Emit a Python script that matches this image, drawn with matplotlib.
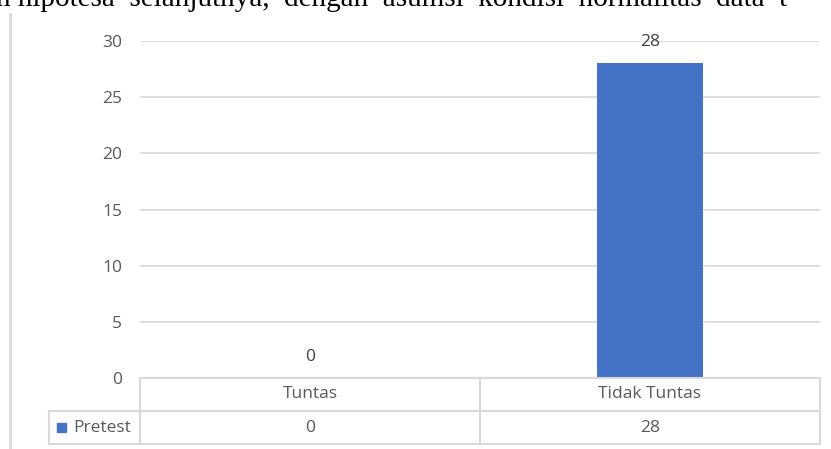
import matplotlib
matplotlib.use("Agg")
import matplotlib.pyplot as plt
from matplotlib.transforms import blended_transform_factory
from matplotlib.patches import Rectangle

categories = ["Tuntas", "Tidak Tuntas"]
series_name = "Pretest"
values = [0, 28]
yticks = [0, 5, 10, 15, 20, 25, 30]
header_text = "n hipotesa  selanjutnya,  dengan  asumsi  kondisi  normalitas  data  t"

W, H = 831, 449
fig = plt.figure(figsize=(W / 100, H / 100), dpi=100)
fig.patch.set_facecolor("white")

def fx(px):
    return px / W

def fy(py):
    return 1 - py / H

FS = 12.5
L, R, T, B = 140, 820, 41, 378
ax = fig.add_axes([fx(L), fy(B), fx(R) - fx(L), fy(T) - fy(B)])
ax.set_xlim(-0.5, 1.5)
ax.set_ylim(0, 30)
for s in ax.spines.values():
    s.set_visible(False)
ax.set_yticks(yticks)
ax.yaxis.grid(True, color="#d9d9d9", linewidth=1.2)
ax.set_axisbelow(True)
ax.tick_params(axis="y", length=0, pad=13, labelsize=FS, labelcolor="#595959")
ax.set_xticks([])
for lab in ax.get_yticklabels():
    lab.set_fontfamily("Open Sans")

blue = "#4472c4"
x = list(range(len(categories)))
ax.bar(x, values, width=0.31, color=blue, zorder=3)
for xi, v in zip(x, values):
    ax.annotate(str(v), (xi, v), xytext=(0, 9.5), textcoords="offset points",
                ha="center", va="bottom", fontsize=FS, color="#404040", family="Open Sans")

# data table below the axes
lc = "#d9d9d9"
row1_top, row1_bot, row2_bot = 378, 411, 444
leg_left = 49
fig.add_artist(plt.Line2D([fx(L), fx(R)], [fy(row1_top)] * 2, color=lc, lw=1.5))
fig.add_artist(plt.Line2D([fx(leg_left), fx(R)], [fy(row1_bot)] * 2, color=lc, lw=1.5))
fig.add_artist(plt.Line2D([fx(leg_left), fx(R)], [fy(row2_bot)] * 2, color=lc, lw=1.5))
fig.add_artist(plt.Line2D([fx(leg_left)] * 2, [fy(row1_bot), fy(row2_bot)], color=lc, lw=1.5))
trans = blended_transform_factory(ax.transData, fig.transFigure)
for xb in [-0.5, 0.5, 1.5]:
    ax.add_artist(plt.Line2D([xb, xb], [fy(row1_top), fy(row2_bot)], color=lc, lw=1.5,
                             transform=trans, clip_on=False))
for xi, cat, v in zip(x, categories, values):
    ax.text(xi, fy((row1_top + row1_bot) / 2), cat, transform=trans, ha="center", va="center",
            fontsize=FS, color="#595959", family="Open Sans", clip_on=False)
    ax.text(xi, fy((row1_bot + row2_bot) / 2), str(v), transform=trans, ha="center", va="center",
            fontsize=FS, color="#595959", family="Open Sans", clip_on=False)
fig.add_artist(Rectangle((fx(57), fy(432)), fx(9), fy(423) - fy(432), color=blue,
                         transform=fig.transFigure))
fig.text(fx(73), fy((row1_bot + row2_bot) / 2), series_name, ha="left", va="center",
         fontsize=FS, color="#595959", family="Open Sans")

# chart frame left edge
fig.add_artist(plt.Line2D([fx(10)] * 2, [fy(14), 0], color="#d9d9d9", lw=2))

# clipped document text at top
fig.text(fx(-4), fy(6), header_text, ha="left", va="baseline", fontsize=21,
         family="Liberation Serif", color="black")

fig.savefig("out.png", dpi=100)
